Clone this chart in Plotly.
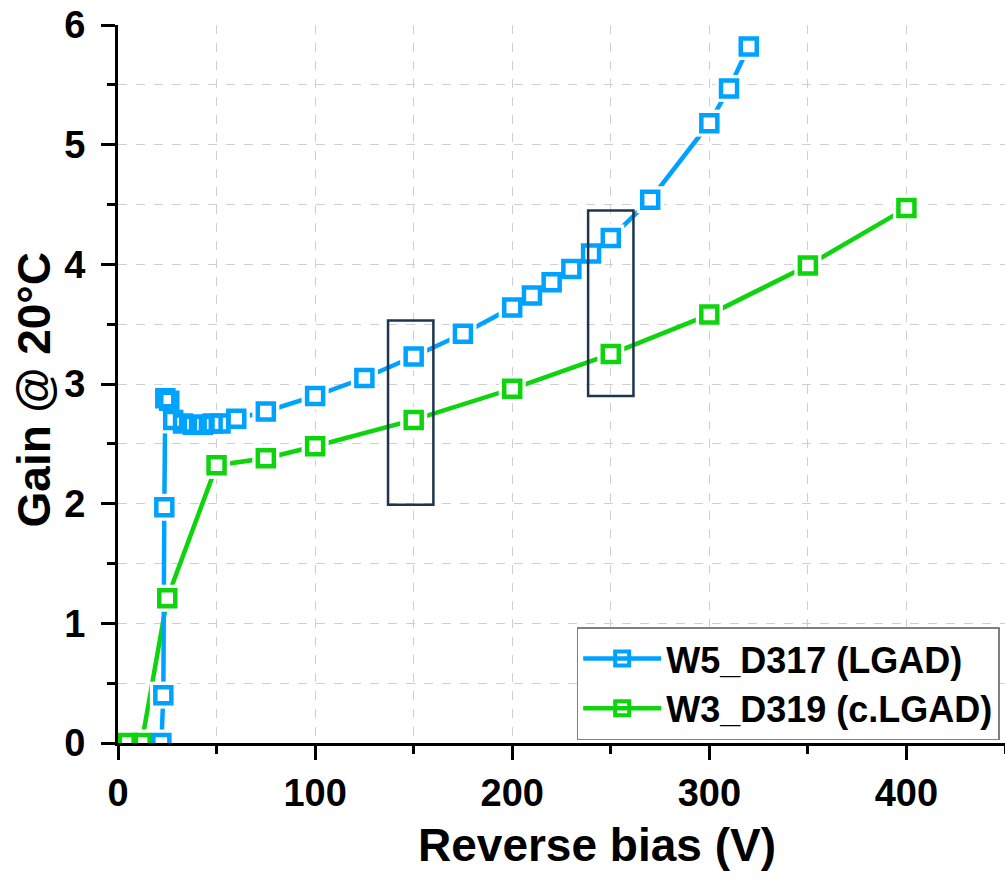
import plotly.graph_objects as go

# ---- data ----
lgad_v = [22, 23, 23.5, 24, 26, 28, 33, 38, 43, 48, 52, 60, 75, 100, 125, 150, 175,
          200, 210, 220, 230, 240, 250, 270, 300, 310, 320]
lgad_gain = [0.0, 0.40, 1.97, 2.88, 2.86, 2.70, 2.67, 2.66, 2.66, 2.67, 2.67, 2.71, 2.77,
             2.90, 3.05, 3.23, 3.42, 3.64, 3.74, 3.85, 3.96, 4.09, 4.22, 4.54, 5.18, 5.47, 5.82]

clgad_v = [5, 12, 25, 50, 75, 100, 150, 200, 250, 300, 350, 400]
clgad_gain = [0.0, 0.0, 1.21, 2.32, 2.38, 2.48, 2.70, 2.96, 3.25, 3.58, 3.99, 4.47]

names = ["W5_D317 (LGAD)", "W3_D319 (c.LGAD)"]
colors = ["#00A2FF", "#0ED40E"]

# highlight boxes: (x0, x1, y0, y1)
box_x0 = [137, 238.5]
box_x1 = [160, 261.5]
box_y0 = [1.99, 2.90]
box_y1 = [3.53, 4.45]

x_ticks = [0, 100, 200, 300, 400]
y_ticks = [0, 1, 2, 3, 4, 5, 6]
x_title = "Reverse bias (V)"
y_title = "Gain @ 20°C"

FONT = "Liberation Sans"

fig = go.Figure()

series = [(clgad_v, clgad_gain, colors[1]), (lgad_v, lgad_gain, colors[0])]
# connecting lines
for xs, ys, c in series:
    fig.add_trace(go.Scatter(x=xs, y=ys, mode="lines", line=dict(color=c, width=4.5),
                             showlegend=False, hoverinfo="skip"))
# white gaps around the symbols
for xs, ys, c in series:
    fig.add_trace(go.Scatter(x=xs, y=ys, mode="markers",
                             marker=dict(symbol="square", size=27, color="white",
                                         line=dict(width=0)),
                             showlegend=False, hoverinfo="skip"))
# open square symbols
for xs, ys, c in series:
    fig.add_trace(go.Scatter(x=xs, y=ys, mode="markers",
                             marker=dict(symbol="square-open", size=16, color=c,
                                         line=dict(width=4.5, color=c)),
                             showlegend=False))
# legend entries
for name, c in zip(names, colors):
    fig.add_trace(go.Scatter(x=[None], y=[None], mode="lines+markers", name=name,
                             line=dict(color=c, width=4.5),
                             marker=dict(symbol="square-open", size=14, color=c,
                                         line=dict(width=4, color=c))))

for x0, x1, y0, y1 in zip(box_x0, box_x1, box_y0, box_y1):
    fig.add_shape(type="rect", xref="x", yref="y", x0=x0, x1=x1, y0=y0, y1=y1,
                  line=dict(color="#1E3550", width=2.5), fillcolor="rgba(0,0,0,0)")

axis_common = dict(
    showline=True, linecolor="black", linewidth=3,
    ticks="outside", ticklen=14, tickwidth=3, tickcolor="black",
    showgrid=True, gridcolor="#CFCFCF", gridwidth=1, griddash="dash",
    zeroline=False, mirror=False,
    tickfont=dict(family=FONT, size=38, color="black", weight="bold"),
)

fig.update_xaxes(range=[0, 450], tickvals=x_ticks, **axis_common,
                 minor=dict(dtick=50, ticks="outside", ticklen=8, tickwidth=3,
                            tickcolor="black", showgrid=True, gridcolor="#CFCFCF",
                            griddash="dash", gridwidth=1))
fig.update_yaxes(range=[0, 6], tickvals=y_ticks, ticklabelstandoff=8, **axis_common,
                 minor=dict(dtick=0.5, ticks="outside", ticklen=8, tickwidth=3,
                            tickcolor="black", showgrid=True, gridcolor="#CFCFCF",
                            griddash="dash", gridwidth=1))

title_font = dict(family=FONT, size=46, color="black", weight="bold")
fig.add_annotation(text=x_title, xref="paper", yref="paper", x=0.54, y=-0.142,
                   xanchor="center", yanchor="middle", showarrow=False, font=title_font)
fig.add_annotation(text=y_title, xref="paper", yref="paper", x=-0.095, y=0.492,
                   xanchor="center", yanchor="middle", textangle=-90, showarrow=False,
                   font=title_font)

fig.update_layout(
    width=1005, height=890,
    margin=dict(l=118, r=0, t=25, b=147),
    plot_bgcolor="white", paper_bgcolor="white",
    legend=dict(x=0.994, y=0.004, xanchor="right", yanchor="bottom",
                bgcolor="white", bordercolor="#808080", borderwidth=1.5,
                font=dict(family=FONT, size=36, color="black", weight="bold"),
                itemwidth=78, tracegroupgap=0),
)

fig.write_html("out.html")
